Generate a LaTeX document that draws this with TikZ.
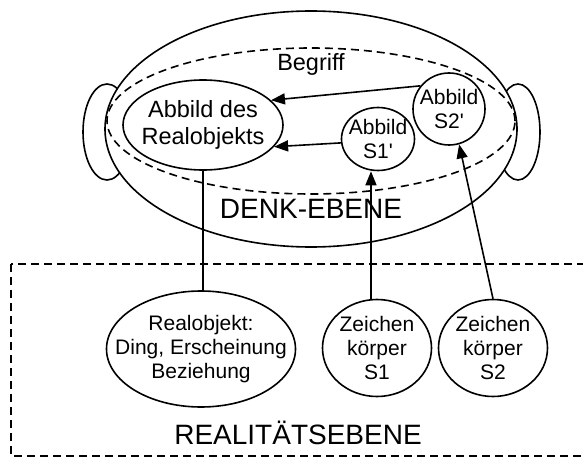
\documentclass[tikz,border=0pt]{standalone}
\usepackage{fontspec}
\setmainfont{Liberation Sans}
\usetikzlibrary{shapes.geometric,arrows.meta}

\begin{document}
\begin{tikzpicture}[x=1pt,y=-1pt,line width=1.6pt,
  oval/.style={draw,ellipse,inner sep=0pt,fill=white},
  txt/.style={align=center,inner sep=0pt,font=\fontsize{21}{24}\selectfont},
  pfeil/.style={-{Triangle[length=14pt,width=11pt]}},
  strich/.style={dash pattern=on 8pt off 5pt}]
\useasboundingbox (0,0) rectangle (583,457);
% ohren und kopf
\draw (107,132) ellipse [x radius=24pt,y radius=48pt];
\draw (518,132) ellipse [x radius=22pt,y radius=48pt];
\draw[fill=white] (311,129) ellipse [x radius=206pt,y radius=118pt];
\draw[strich] (311,121) ellipse [x radius=204pt,y radius=73pt];
% realitaetsebene
\draw[strich] (11,264) rectangle (600,456);

\node[anchor=base,font=\fontsize{23.5}{26}\selectfont] (begriff) at (311,71) {Begriff};
\node[anchor=base,font=\fontsize{28}{30}\selectfont] (denk) at (311,218) {DENK-EBENE};
\node[anchor=base,font=\fontsize{28}{30}\selectfont] (real) at (298,444) {REALIT\"ATSEBENE};

\node[oval,minimum width=160pt,minimum height=90pt,
  label={[txt,font=\fontsize{23.5}{26.5}\selectfont]center:{Abbild des\\Realobjekts}}] (abbildreal) at (203,125) {};
\node[oval,minimum width=73pt,minimum height=63pt,
  label={[txt]center:{Abbild\\S1\textquotesingle}}] (abbilds1) at (378,139) {};
\node[oval,minimum width=72pt,minimum height=72pt,
  label={[txt]center:{Abbild\\S2\textquotesingle}}] (abbilds2) at (449,109) {};

\node[oval,minimum width=189pt,minimum height=116pt,
  label={[txt]center:{Realobjekt:\\Ding, Erscheinung\\Beziehung}}] (realobj) at (201,349) {};
\node[oval,minimum width=109pt,minimum height=97pt,
  label={[txt]center:{Zeichen\\k\"orper\\S1}}] (zks1) at (377,348) {};
\node[oval,minimum width=109pt,minimum height=97pt,
  label={[txt]center:{Zeichen\\k\"orper\\S2}}] (zks2) at (493,348) {};

% verbindungen
\draw[pfeil] (abbilds2.141) -- (abbildreal.20);
\draw[pfeil] (abbilds1.186) -- (abbildreal.-17);
\draw (abbildreal.south) -- (abbildreal.south |- realobj.north);
\draw[pfeil] (zks1.97) -- (zks1.97 |- abbilds1.south);
\draw[pfeil] (zks2.north) -- (abbilds2.-74);
\end{tikzpicture}
\end{document}
